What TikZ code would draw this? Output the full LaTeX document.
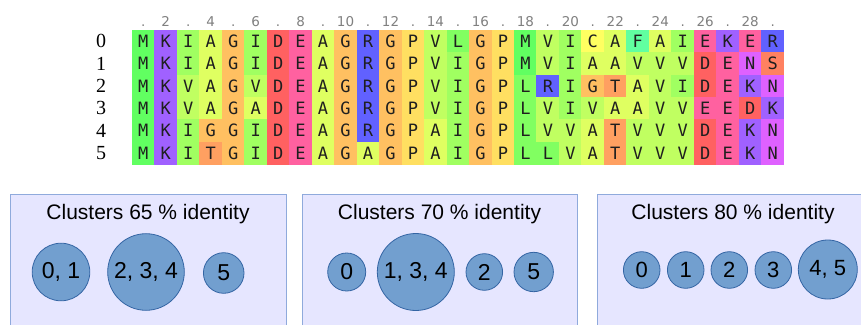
\documentclass[tikz,border=0pt]{standalone}
\usepackage{fontspec}
\setmainfont{Liberation Sans}
\newfontfamily\monofont{DejaVu Sans Mono}
\newfontfamily\serifnum{Liberation Serif}
\newfontfamily\dejasans{DejaVu Sans}
% Taylor residue colours
\definecolor{tA}{HTML}{CCFF00}
\definecolor{tR}{HTML}{0000FF}
\definecolor{tN}{HTML}{CC00FF}
\definecolor{tD}{HTML}{FF0000}
\definecolor{tC}{HTML}{FFFF00}
\definecolor{tE}{HTML}{FF0066}
\definecolor{tG}{HTML}{FF9900}
\definecolor{tI}{HTML}{66FF00}
\definecolor{tL}{HTML}{33FF00}
\definecolor{tK}{HTML}{6600FF}
\definecolor{tM}{HTML}{00FF00}
\definecolor{tF}{HTML}{00FF66}
\definecolor{tP}{HTML}{FFCC00}
\definecolor{tS}{HTML}{FF3300}
\definecolor{tT}{HTML}{FF6600}
\definecolor{tV}{HTML}{99FF00}
\definecolor{boxfill}{HTML}{E6E6FF}
\definecolor{boxline}{HTML}{8FAADC}
\definecolor{cirfill}{HTML}{729FCF}
\definecolor{cirline}{HTML}{3465A4}
\begin{document}
\begin{tikzpicture}[x=1pt,y=-1pt,
  cell/.style={minimum width=22.8pt, minimum height=22.7pt, inner sep=0pt,
    font=\monofont\fontsize{17}{17}\selectfont, text=black!88},
  rowlab/.style={inner sep=0pt, font=\serifnum\fontsize{20}{20}\selectfont},
  collab/.style={inner sep=0pt, anchor=base, text=black!50, font=\dejasans\fontsize{13.5}{13.5}\selectfont},
  clbox/.style={draw=boxline, fill=boxfill, line width=0.9pt, inner sep=0pt, anchor=north west},
  cltitle/.style={inner sep=0pt, anchor=base, font=\fontsize{21}{21}\selectfont},
  clu/.style={circle, draw=cirline, fill=cirfill, line width=0.8pt, inner sep=0pt,
    font=\fontsize{23}{23}\selectfont},
  cluS/.style={clu, font=\fontsize{22}{22}\selectfont}
]
\useasboundingbox (0,0) rectangle (861,324);
\clip (0,0) rectangle (861,324);
\fill[white] (0,0) rectangle (861,324);

% column numbers
\foreach \i in {1,...,29} {
  \node[collab] (n\i) at ({132+22.48*(\i-0.5)}, 26.5) {\ifodd\i .\else\i\fi};
}

% alignment
\foreach \row [count=\j from 0] in {
  {M,K,I,A,G,I,D,E,A,G,R,G,P,V,L,G,P,M,V,I,C,A,F,A,I,E,K,E,R},
  {M,K,I,A,G,I,D,E,A,G,R,G,P,V,I,G,P,M,V,I,A,A,V,V,V,D,E,N,S},
  {M,K,V,A,G,V,D,E,A,G,R,G,P,V,I,G,P,L,R,I,G,T,A,V,I,D,E,K,N},
  {M,K,V,A,G,A,D,E,A,G,R,G,P,V,I,G,P,L,V,I,V,A,A,V,V,E,E,D,K},
  {M,K,I,G,G,I,D,E,A,G,R,G,P,A,I,G,P,L,V,V,A,T,V,V,V,D,E,K,N},
  {M,K,I,T,G,I,D,E,A,G,A,G,P,A,I,G,P,L,L,V,A,T,V,V,V,D,E,K,N}} {
  \node[rowlab] (r\j) at (101, {30+22.4*(\j+0.5)}) {\j};
  \foreach \c [count=\i] in \row {
    \node[cell, fill=t\c!62!white] (c\j-\i) at ({132+22.48*(\i-0.5)}, {30+22.4*(\j+0.5)}) {\c};
  }
}

% cluster boxes
\node[clbox, minimum width=276pt, minimum height=150pt] (box1) at (10,194) {};
\node[clbox, minimum width=275pt, minimum height=150pt] (box2) at (302,194) {};
\node[clbox, minimum width=276pt, minimum height=150pt] (box3) at (597,194) {};

\node[cltitle] (t1) at (148,219) {Clusters 65 \% identity};
\node[cltitle] (t2) at (439.5,219) {Clusters 70 \% identity};
\node[cltitle] (t3) at (733,219) {Clusters 80 \% identity};

% 65 %
\node[clu, minimum size=57.6pt] (a1) at (61,272) {0, 1};
\node[clu, minimum size=76.6pt] (a2) at (146,272) {2, 3, 4};
\node[clu, minimum size=40.6pt] (a3) at (223.7,273) {5};
% 70 %
\node[clu, minimum size=38pt] (b1) at (346.7,272) {0};
\node[clu, minimum size=77pt] (b2) at (415.8,272) {1, 3, 4};
\node[clu, minimum size=36.6pt] (b3) at (484.3,272) {2};
\node[clu, minimum size=39.4pt] (b4) at (533.7,272) {5};
% 80 %
\node[cluS, minimum size=36.6pt] (d1) at (641.7,270) {0};
\node[cluS, minimum size=36.6pt] (d2) at (685.7,270) {1};
\node[cluS, minimum size=36.6pt] (d3) at (729.3,270) {2};
\node[cluS, minimum size=36.6pt] (d4) at (773.3,270) {3};
\node[cluS, minimum size=59pt] (d5) at (827.8,269.5) {4, 5};
\end{tikzpicture}
\end{document}
